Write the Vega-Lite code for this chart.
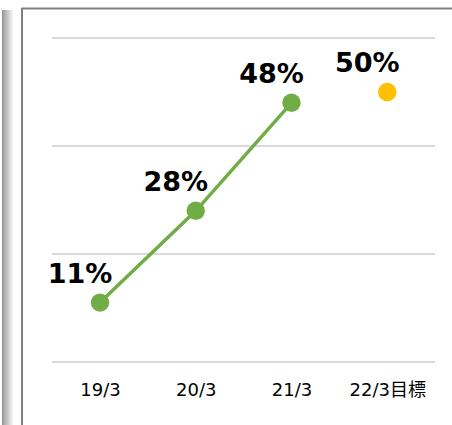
{
  "$schema": "https://vega.github.io/schema/vega-lite/v6.json",
  "width": 431,
  "height": 417,
  "autosize": {"type": "none"},
  "padding": {"left": 21, "top": 8, "right": 0, "bottom": 0},
  "background": "#ffffff",
  "config": {"view": {"stroke": null}, "font": "DejaVu Sans"},
  "datasets": {
    "points": [
      {"period": "19/3", "i": 0, "rate": 0.11, "kind": "実績"},
      {"period": "20/3", "i": 1, "rate": 0.28, "kind": "実績"},
      {"period": "21/3", "i": 2, "rate": 0.48, "kind": "実績"},
      {"period": "22/3目標", "i": 3, "rate": 0.50, "kind": "目標"}
    ],
    "grid": [{"g": 0}, {"g": 0.2}, {"g": 0.4}, {"g": 0.6}]
  },
  "layer": [
    {
      "data": {"name": "grid"},
      "mark": {"type": "rule", "color": "#d9d9d9", "strokeWidth": 2},
      "encoding": {
        "y": {
          "field": "g", "type": "quantitative",
          "scale": {"domain": [-0.11667, 0.65556], "nice": false, "zero": false},
          "axis": null
        },
        "x": {
          "datum": -0.5, "type": "quantitative",
          "scale": {"domain": [-0.82507, 3.67624], "nice": false, "zero": false},
          "axis": {"orient": "top", "domain": true, "domainColor": "#808080", "domainWidth": 2, "labels": false, "ticks": false, "grid": false, "title": null}
        },
        "x2": {"datum": 3.5}
      }
    },
    {
      "data": {"name": "grid"},
      "transform": [{"filter": "datum.g == 0"}],
      "mark": {"type": "rule", "color": "#808080", "strokeWidth": 2, "clip": false},
      "encoding": {
        "x": {"datum": -0.81462, "type": "quantitative", "axis": null},
        "y": {"datum": -0.11667, "type": "quantitative", "axis": null},
        "y2": {"datum": 0.65556}
      }
    },
    {
      "data": {"name": "grid"},
      "mark": {"type": "rect", "clip": false, "fill": {"gradient": "linear", "x1": 0, "x2": 1, "y1": 0, "y2": 0, "stops": [{"offset": 0, "color": "#8f8f8f"}, {"offset": 0.15, "color": "#a8a8a8"}, {"offset": 1, "color": "#ffffff"}]}},
      "transform": [{"filter": "datum.g == 0"}],
      "encoding": {
        "x": {"datum": -1.0235, "type": "quantitative", "axis": null},
        "x2": {"datum": -0.8982},
        "y": {"datum": -0.11667, "type": "quantitative", "axis": null},
        "y2": {"datum": 0.6519}
      }
    },
    {
      "data": {"name": "points"},
      "transform": [{"filter": "datum.kind == '実績'"}],
      "mark": {"type": "line", "color": "#70AD47", "strokeWidth": 3.5},
      "encoding": {
        "x": {
          "field": "i", "type": "quantitative",
          "axis": {"orient": "bottom", "values": [0, 1, 2, 3], "labelExpr": "['19/3','20/3','21/3','22/3目標'][datum.value]", "domain": false, "ticks": false, "tickSize": 0, "grid": false, "title": null, "offset": -32, "labelPadding": 2, "labelBaseline": "alphabetic", "labelFontSize": 18, "labelFont": "DejaVu Sans, Noto Sans CJK JP", "labelColor": "#000000", "labelFlush": false, "labelOverlap": false}
        },
        "y": {"field": "rate", "type": "quantitative", "axis": null}
      }
    },
    {
      "data": {"name": "points"},
      "mark": {"type": "circle", "size": 340, "opacity": 1},
      "encoding": {
        "x": {"field": "i", "type": "quantitative", "axis": null},
        "y": {"field": "rate", "type": "quantitative", "axis": null},
        "color": {"field": "kind", "type": "nominal", "scale": {"domain": ["実績", "目標"], "range": ["#70AD47", "#FFC000"]}, "legend": null}
      }
    },
    {
      "data": {"name": "points"},
      "mark": {"type": "text", "fontSize": 27, "fontWeight": "bold", "font": "DejaVu Sans", "color": "#000000", "align": "center", "baseline": "alphabetic", "dx": -20, "dy": -20},
      "encoding": {
        "x": {"field": "i", "type": "quantitative", "axis": null},
        "y": {"field": "rate", "type": "quantitative", "axis": null},
        "text": {"field": "rate", "type": "quantitative", "format": ".0%"}
      }
    }
  ]
}
